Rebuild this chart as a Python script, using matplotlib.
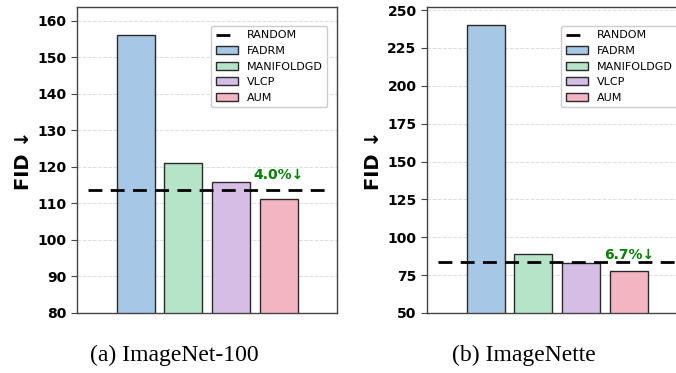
import matplotlib
matplotlib.use("Agg")
import matplotlib.pyplot as plt

methods = ["FADRM", "MANIFOLDGD", "VLCP", "AUM"]
colors = ["#a7c7e7", "#b5e4c8", "#d6bde6", "#f4b5c2"]

# ImageNet-100
fid_in100 = [156.0, 121.0, 115.8, 111.2]
random_in100 = 113.8
gain_in100 = "4.0%\u2193"

# ImageNette
fid_nette = [240.0, 89.2, 83.0, 77.4]
random_nette = 83.5
gain_nette = "6.7%\u2193"

panels = [
    (fid_in100, random_in100, gain_in100, 80, "(a) ImageNet-100"),
    (fid_nette, random_nette, gain_nette, 50, "(b) ImageNette"),
]

fig = plt.figure(figsize=(6.76, 3.73), dpi=100)
lefts = [77 / 676, 427 / 676]

for left, (vals, rnd, gain, ymin, caption) in zip(lefts, panels):
    ax = fig.add_axes([left, 60 / 373, 260 / 676, 306 / 373])
    for i, (m, v, c) in enumerate(zip(methods, vals, colors)):
        ax.bar(i, v, width=0.8, color=c, edgecolor="#2a2a2a", linewidth=1.0,
               label=m, zorder=2)
    ax.hlines(rnd, -1.0, 4.0, colors="black", linestyles=(0, (5, 3)),
              linewidth=2.0, label="RANDOM", zorder=3)
    ymax = max(vals) * 1.05
    ax.set_ylim(ymin, ymax)
    ax.set_xlim(-1.23, 4.22)
    ax.set_xticks([])
    ax.grid(axis="y", linestyle="--", color="#dddddd", linewidth=0.7, zorder=0)
    ax.set_axisbelow(True)
    for s in ax.spines.values():
        s.set_color("#444444")
        s.set_linewidth(1.0)
    ax.tick_params(axis="y", colors="#444444", labelcolor="black", length=4,
                   labelsize=10)
    for t in ax.get_yticklabels():
        t.set_fontweight("bold")
    ax.set_ylabel("FID \u2193", fontsize=14, fontweight="bold", labelpad=3)
    # gain label sits just above the taller of random / VLCP
    ty = max(rnd, vals[2]) + 0.024 * (ymax - ymin)
    ax.text(3, ty, gain, color="green", fontsize=10, fontweight="bold",
            ha="center", va="center", zorder=4)
    h, l = ax.get_legend_handles_labels()
    order = [l.index("RANDOM")] + [l.index(m) for m in methods]
    ax.legend([h[k] for k in order], [l[k] for k in order], loc="upper right",
              bbox_to_anchor=(0.962, 0.938), borderaxespad=0, fontsize=8,
              framealpha=1, edgecolor="#cccccc")
    fig.text(left + 97 / 676, 18 / 373, caption, ha="center", va="center",
             fontsize=17, family="Liberation Serif")

fig.savefig("out.png", dpi=100)
